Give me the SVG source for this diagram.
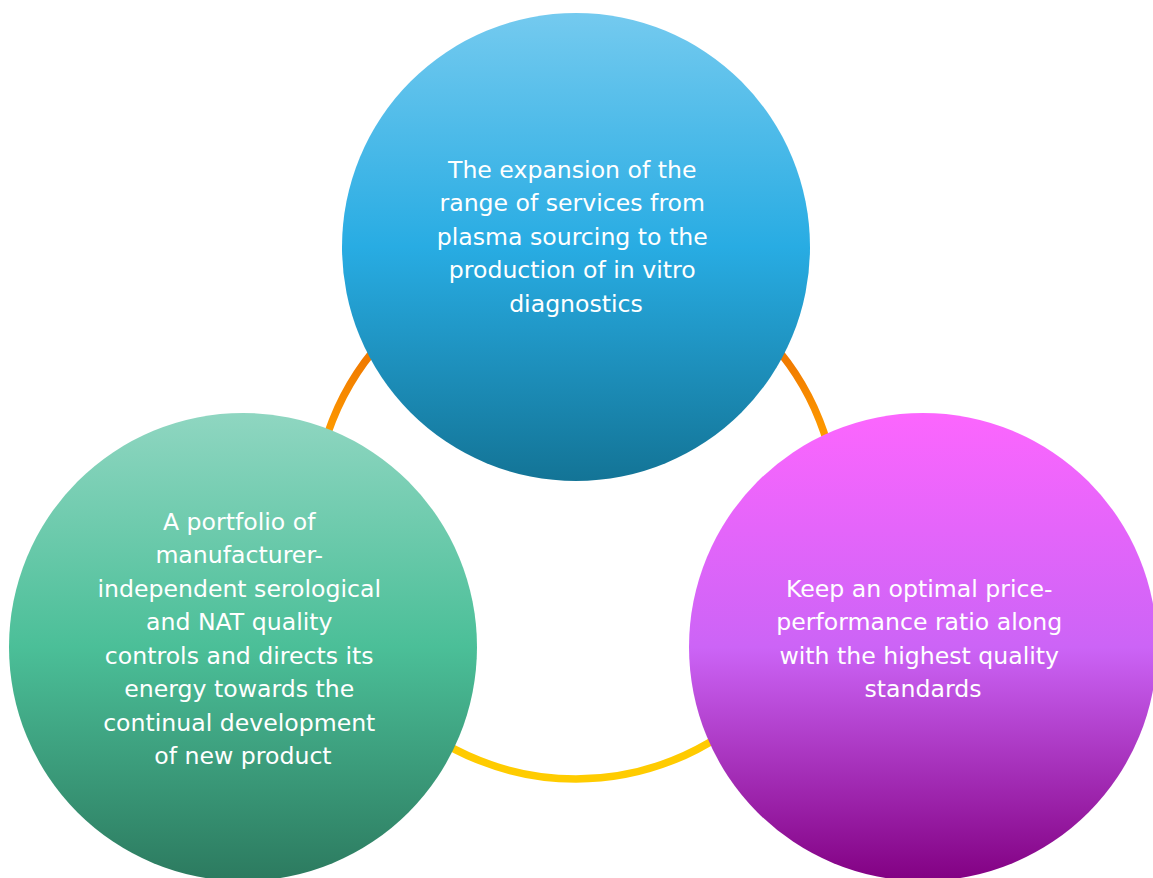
<svg xmlns="http://www.w3.org/2000/svg" width="1153" height="878" viewBox="0 0 1153 878">
<defs>
<linearGradient id="gRing" gradientUnits="userSpaceOnUse" x1="0" y1="255" x2="0" y2="779">
<stop offset="0" stop-color="#ec7000"/>
<stop offset="0.2" stop-color="#f07a00"/>
<stop offset="0.35" stop-color="#ff9c00"/>
<stop offset="0.7" stop-color="#ffc400"/>
<stop offset="1" stop-color="#ffcc00"/>
</linearGradient>
<linearGradient id="gTop" x1="0" y1="0" x2="0" y2="1">
<stop offset="0" stop-color="#74caef"/>
<stop offset="0.5" stop-color="#28ace3"/>
<stop offset="1" stop-color="#137496"/>
</linearGradient>
<linearGradient id="gLeft" x1="0" y1="0" x2="0" y2="1">
<stop offset="0" stop-color="#8fd6c1"/>
<stop offset="0.5" stop-color="#4bbf98"/>
<stop offset="1" stop-color="#2c7a5f"/>
</linearGradient>
<linearGradient id="gRight" x1="0" y1="0" x2="0" y2="1">
<stop offset="0" stop-color="#fc66fe"/>
<stop offset="0.5" stop-color="#cc64f6"/>
<stop offset="1" stop-color="#820082"/>
</linearGradient>
</defs>
<style>
.lbl{font-family:"DejaVu Sans","Liberation Sans",sans-serif;font-size:23.6px;fill:#ffffff;text-anchor:middle}
</style>
<rect width="1153" height="878" fill="#ffffff"/>
<g id="connectors">
<circle cx="576" cy="517" r="262" fill="none" stroke="url(#gRing)" stroke-width="7.5"/>
</g>
<g id="node-top">
<circle cx="576" cy="247" r="234" fill="url(#gTop)"/>
<text class="lbl">
<tspan x="576" y="177.5">The expansion of the</tspan>
<tspan x="576" y="211">range of services from</tspan>
<tspan x="576" y="244.5">plasma sourcing to the</tspan>
<tspan x="576" y="278">production of in vitro</tspan>
<tspan x="576" y="311.5">diagnostics</tspan>
</text>
</g>
<g id="node-left">
<circle cx="243" cy="647" r="234" fill="url(#gLeft)"/>
<text class="lbl">
<tspan x="243" y="529.5">A portfolio of</tspan>
<tspan x="243" y="563">manufacturer-</tspan>
<tspan x="243" y="596.5">independent serological</tspan>
<tspan x="243" y="630">and NAT quality</tspan>
<tspan x="243" y="663.5">controls and directs its</tspan>
<tspan x="243" y="697">energy towards the</tspan>
<tspan x="243" y="730.5">continual development</tspan>
<tspan x="243" y="764">of new product</tspan>
</text>
</g>
<g id="node-right">
<circle cx="923" cy="647" r="234" fill="url(#gRight)"/>
<text class="lbl">
<tspan x="923" y="596.5">Keep an optimal price-</tspan>
<tspan x="923" y="630">performance ratio along</tspan>
<tspan x="923" y="663.5">with the highest quality</tspan>
<tspan x="923" y="697">standards</tspan>
</text>
</g>
</svg>
